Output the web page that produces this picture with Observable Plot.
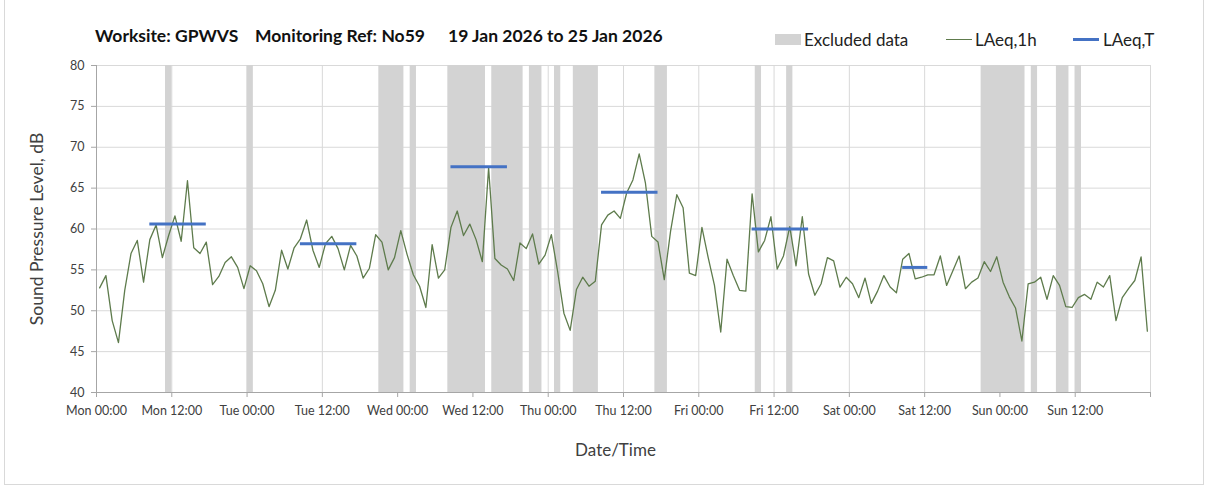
<!DOCTYPE html>
<html><head><meta charset="utf-8">
<script src="https://cdn.jsdelivr.net/npm/d3@7"></script>
<script src="https://cdn.jsdelivr.net/npm/@observablehq/plot@0.6"></script>
<style>
body{margin:0;background:#fff;font-family:Lato,"Open Sans",sans-serif;}
#wrap{position:relative;width:1208px;height:486px;overflow:hidden;}
#frame{position:absolute;left:4px;top:-2px;width:1200px;height:487px;border:1px solid #d9d9d9;box-sizing:border-box;pointer-events:none;}
#head{position:relative;height:55px;}
.t{position:absolute;top:26px;font-weight:bold;font-size:17.5px;line-height:20px;color:#111;white-space:nowrap;}
.lg{position:absolute;top:30px;font-size:17px;line-height:20px;color:#222;white-space:nowrap;}
.sw{position:absolute;}
svg{display:block;}
</style></head>
<body>
<div id="wrap">
  <div id="head">
    <span class="t" style="left:95px">Worksite: GPWVS</span>
    <span class="t" style="left:255px">Monitoring Ref: No59</span>
    <span class="t" style="left:448px">19 Jan 2026 to 25 Jan 2026</span>
    <div class="sw" style="left:775px;top:34px;width:26px;height:11px;background:#d3d3d3"></div>
    <span class="lg" style="left:804px">Excluded data</span>
    <div class="sw" style="left:946px;top:39px;width:26px;height:1.3px;background:#5e7b4c"></div>
    <span class="lg" style="left:975px">LAeq,1h</span>
    <div class="sw" style="left:1073px;top:38px;width:26px;height:3px;background:#4472c4"></div>
    <span class="lg" style="left:1103px">LAeq,T</span>
  </div>
  <div id="chart"></div>
  <div id="frame"></div>
</div>
<script>
// Hourly LAeq,1h values, Mon 00:00 .. Sun 23:00 (hour index 0..167)
const mon = [52.8,54.3,48.8,46.1,52.5,57.0,58.6,53.5,58.7,60.5,56.5,59.2,61.6,58.5,65.9,57.7,57.0,58.4,53.2,54.2,55.9,56.6,55.3,52.7];
const tue = [55.5,54.9,53.3,50.5,52.5,57.4,55.1,57.7,58.8,61.1,57.4,55.3,58.2,59.1,57.6,55.0,58.0,56.7,54.0,55.2,59.3,58.4,55.0,56.5];
const wed = [59.8,56.9,54.4,53.0,50.4,58.1,54.0,55.0,60.2,62.2,59.2,60.6,58.7,56.0,67.5,56.4,55.6,55.1,53.7,58.3,57.6,59.4,55.7,56.8];
const thu = [59.3,54.8,49.7,47.6,52.6,54.1,53.0,53.6,60.5,61.7,62.2,61.3,64.4,66.0,69.2,65.6,59.1,58.4,53.8,59.7,64.2,62.6,54.6,54.3];
const fri = [60.2,56.5,53.1,47.4,56.3,54.3,52.5,52.4,64.3,57.2,58.6,61.5,55.1,56.7,60.3,55.5,61.5,54.5,51.9,53.3,56.5,56.1,52.9,54.1];
const sat = [53.3,51.6,54.0,50.9,52.4,54.3,52.9,52.2,56.3,57.0,53.9,54.1,54.4,54.4,56.7,53.1,54.9,56.7,52.7,53.5,54.0,56.0,54.8,56.6];
const sun = [53.5,51.7,50.3,46.3,53.3,53.5,54.1,51.4,54.3,53.1,50.5,50.4,51.6,52.0,51.4,53.5,52.9,54.3,48.8,51.6,52.7,53.7,56.6,47.5];

// Excluded data: hour indices (each covers one hour)
const excludedHours = [11,24,45,46,47,48,50,56,57,58,59,60,61,63,64,65,66,67,69,70,73,76,77,78,79,89,90,105,110,141,142,143,144,145,146,147,149,153,154,156];

// LAeq,T periods (start hour, end hour, level)
const periodStart = [8.5, 32.5, 56.5, 80.5, 104.5, 128.5];
const periodEnd   = [17.5, 41.5, 65.5, 89.5, 113.5, 132.5];
const periodLevel = [60.6, 58.2, 67.6, 64.5, 60.0, 55.3];

const xTickLabels = ["Mon 00:00","Mon 12:00","Tue 00:00","Tue 12:00","Wed 00:00","Wed 12:00","Thu 00:00","Thu 12:00","Fri 00:00","Fri 12:00","Sat 00:00","Sat 12:00","Sun 00:00","Sun 12:00"];
const xTicks = [0,12,24,36,48,60,72,84,96,108,120,132,144,156,168];
const yTicks = [40,45,50,55,60,65,70,75,80];

const values = [...mon,...tue,...wed,...thu,...fri,...sat,...sun];
const hourly = values.map((v,i)=>({h:i+0.5, v}));
// merge consecutive excluded hours into single bands (avoids seams)
const excluded = [];
for (const h of excludedHours) {
  const last = excluded[excluded.length-1];
  if (last && last.h2 === h) last.h2 = h+1; else excluded.push({h1:h, h2:h+1});
}
const periods = periodLevel.map((v,i)=>({x1:periodStart[i], x2:periodEnd[i], v}));

const chart = Plot.plot({
  width: 1208, height: 431,
  marginTop: 10, marginBottom: 94, marginLeft: 96, marginRight: 58,
  style: {fontFamily: "Lato, 'Open Sans', sans-serif", color: "#404040", background: "#fff"},
  x: {type: "linear", domain: [0,168]},
  y: {domain: [40,80]},
  marks: [
    Plot.gridY(yTicks, {stroke: "#d9d9d9", strokeOpacity: 1}),
    Plot.gridX(xTicks, {stroke: "#d9d9d9", strokeOpacity: 1}),
    Plot.rectY(excluded, {x1: "h1", x2: "h2", y1: 40, y2: 80, fill: "#d3d3d3"}),
    Plot.ruleY([40], {stroke: "#a6a6a6"}),
    Plot.ruleX([0], {stroke: "#a6a6a6"}),
    Plot.axisY({ticks: yTicks, tickSize: 5, tickPadding: 7, fontSize: 12.5, label: null, stroke: "#a6a6a6", fill: "#404040"}),
    Plot.axisX({ticks: xTicks, tickFormat: d => xTickLabels[d/12] ?? "", tickSize: 5, tickPadding: 9, fontSize: 12.5, label: null, stroke: "#a6a6a6", fill: "#404040"}),
    Plot.line(hourly, {x: "h", y: "v", stroke: "#5e7b4c", strokeWidth: 1.3}),
    Plot.ruleY(periods, {x1: "x1", x2: "x2", y: "v", stroke: "#4472c4", strokeWidth: 3}),
    Plot.text(["Sound Pressure Level, dB"], {frameAnchor: "left", dx: -59, rotate: -90, textAnchor: "middle", fontSize: 17.5, fill: "#404040"}),
    Plot.text(["Date/Time"], {frameAnchor: "bottom", dx: -8, dy: 63, fontSize: 17, fill: "#404040"})
  ]
});
document.getElementById("chart").appendChild(chart);
</script>
</body></html>
